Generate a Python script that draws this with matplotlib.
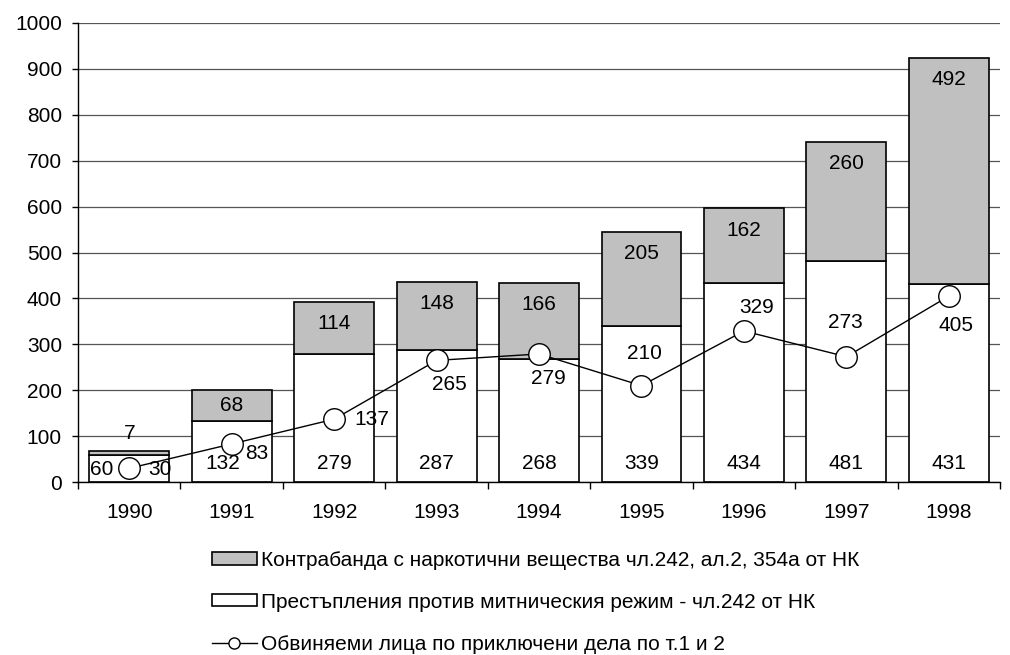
import numpy as np
import matplotlib.pyplot as plt
from matplotlib.patches import Patch
from matplotlib.lines import Line2D

plt.rcParams['font.family'] = ['Liberation Sans', 'DejaVu Sans']

years = ["1990", "1991", "1992", "1993", "1994", "1995", "1996", "1997", "1998"]
customs = [60, 132, 279, 287, 268, 339, 434, 481, 431]  # white part
drugs = [7, 68, 114, 148, 166, 205, 162, 260, 492]  # gray part
accused = [30, 83, 137, 265, 279, 210, 329, 273, 405]  # line

lbl_drugs = "Контрабанда с наркотични вещества чл.242, ал.2, 354а от НК"
lbl_customs = "Престъпления против митническия режим - чл.242 от НК"
lbl_accused = "Обвиняеми лица по приключени дела по т.1 и 2"

# where the line values sit relative to their marker (points)
line_off = [(22, -1), (18, -7), (27, 0), (9, -17), (7, -18), (2, 23), (9, 17), (-1, 25), (5, -21)]

x = np.arange(len(years))
fig = plt.figure(figsize=(10.1, 6.55), dpi=100)
ax = fig.add_axes([0.0772, 0.264, 0.913, 0.701])

ax.bar(x, customs, width=0.78, color="white", edgecolor="black", linewidth=1.2, zorder=2)
ax.bar(x, drugs, width=0.78, bottom=customs, color="#c0c0c0", edgecolor="black",
       linewidth=1.2, zorder=2)
ax.plot(x, accused, color="black", linewidth=1, marker="o", markersize=15.5,
        markerfacecolor="white", markeredgecolor="black", markeredgewidth=1, zorder=4)

fs = 15
for i in range(len(years)):
    top = customs[i] + drugs[i]
    if i == 0:
        ax.annotate(str(drugs[i]), (x[i], top), xytext=(0, 13), textcoords="offset points",
                    ha="center", va="center", fontsize=fs, zorder=5)
        ax.text(x[i] - 0.27, 28, str(customs[i]), ha="center", va="center",
                fontsize=fs, zorder=5)
    else:
        y_g = max(customs[i] + drugs[i] / 2, top - 47)
        ax.text(x[i], y_g, str(drugs[i]), ha="center", va="center", fontsize=fs, zorder=5)
        dx = -0.09 if i == 1 else 0
        ax.text(x[i] + dx, 40, str(customs[i]), ha="center", va="center", fontsize=fs, zorder=5)
    ax.annotate(str(accused[i]), (x[i], accused[i]), xytext=line_off[i],
                textcoords="offset points", ha="center", va="center", fontsize=fs, zorder=5)

ax.set_ylim(0, 1000)
ax.set_xlim(-0.5, len(years) - 0.5)
ax.set_yticks(np.arange(0, 1001, 100))
ax.yaxis.grid(True, color="#555555", linewidth=0.9)
ax.set_axisbelow(True)
ax.set_xticks(x)
ax.set_xticklabels(years)
ax.set_xticks(np.arange(-0.5, len(years), 1), minor=True)
ax.tick_params(axis="x", which="major", length=0, pad=15, labelsize=fs)
ax.tick_params(axis="x", which="minor", length=5, width=1)
ax.tick_params(axis="y", length=4.5, width=1, pad=7, labelsize=fs)
for s in ["top", "right"]:
    ax.spines[s].set_visible(False)
ax.spines["left"].set_linewidth(1)
ax.spines["bottom"].set_linewidth(1)

handles = [
    Patch(facecolor="#c0c0c0", edgecolor="black", linewidth=1.2),
    Patch(facecolor="white", edgecolor="black", linewidth=1.2),
    Line2D([], [], color="black", linewidth=1, marker="o", markersize=8,
           markerfacecolor="white", markeredgecolor="black"),
]
fig.legend(handles, [lbl_drugs, lbl_customs, lbl_accused], loc="upper left",
           bbox_to_anchor=(0.21, 0.159), frameon=False, fontsize=fs,
           labelspacing=1.1, handlelength=2.15, handleheight=0.52, handletextpad=0.2,
           borderpad=0, borderaxespad=0)

plt.savefig("out.png", dpi=100)
